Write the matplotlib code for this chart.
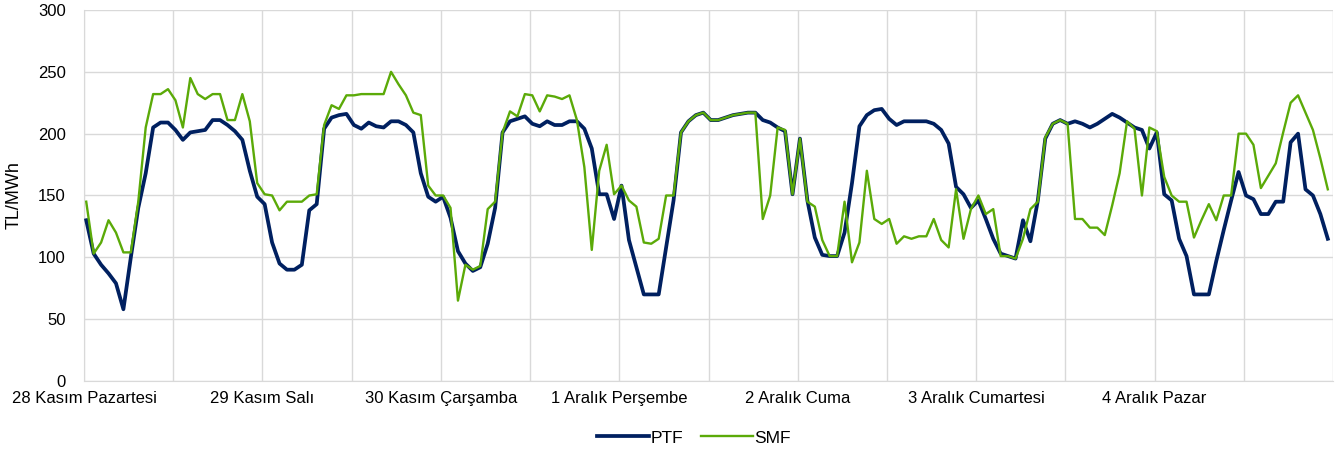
import numpy as np
import matplotlib
matplotlib.use("Agg")
import matplotlib.pyplot as plt

plt.rcParams['font.family'] = ['Liberation Sans', 'DejaVu Sans']

# saatlik degerler, 28 Kasim 00:00 - 4 Aralik 23:00 (168 saat)
ptf = [130, 103, 94, 87, 79, 58, 100, 140, 168, 205, 209, 209, 203, 195, 201, 202, 203, 211, 211, 207, 202, 195, 170, 149,
       143, 112, 95, 90, 90, 94, 138, 143, 204, 213, 215, 216, 207, 204, 209, 206, 205, 210, 210, 207, 201, 168, 149, 145,
       149, 132, 105, 95, 89, 92, 111, 140, 201, 210, 212, 214, 208, 206, 210, 207, 207, 210, 210, 204, 188, 151, 151, 131,
       158, 114, 92, 70, 70, 70, 108, 146, 201, 210, 215, 217, 211, 211, 213, 215, 216, 217, 217, 211, 209, 205, 202, 151,
       196, 146, 116, 102, 101, 101, 120, 160, 206, 215, 219, 220, 212, 207, 210, 210, 210, 210, 208, 203, 192, 157, 151, 140,
       146, 131, 115, 103, 101, 99, 130, 113, 146, 196, 208, 211, 208, 210, 208, 205, 208, 212, 216, 213, 209, 205, 203, 188,
       201, 151, 146, 115, 101, 70, 70, 70, 97, 122, 146, 169, 150, 147, 135, 135, 145, 145, 193, 200, 155, 150, 135, 115]

smf = [145, 103, 112, 130, 120, 104, 104, 145, 205, 232, 232, 236, 227, 205, 245, 232, 228, 232, 232, 211, 211, 232, 210, 160,
       151, 150, 138, 145, 145, 145, 150, 151, 207, 223, 220, 231, 231, 232, 232, 232, 232, 250, 240, 231, 217, 215, 158, 150,
       150, 140, 65, 94, 90, 93, 139, 145, 201, 218, 214, 232, 231, 218, 231, 230, 228, 231, 211, 173, 106, 170, 191, 151,
       158, 146, 141, 112, 111, 115, 150, 150, 201, 210, 215, 217, 211, 211, 213, 215, 216, 217, 217, 131, 150, 205, 203, 151,
       196, 145, 141, 114, 101, 101, 145, 96, 112, 170, 131, 127, 131, 111, 117, 115, 117, 117, 131, 114, 108, 155, 115, 139,
       150, 135, 139, 101, 101, 99, 115, 139, 145, 197, 208, 211, 208, 131, 131, 124, 124, 118, 142, 168, 210, 204, 150, 205,
       202, 165, 150, 145, 145, 116, 130, 143, 130, 150, 150, 200, 200, 191, 156, 166, 176, 201, 225, 231, 217, 203, 180, 155]

gunler = ["28 Kasım Pazartesi", "29 Kasım Salı", "30 Kasım Çarşamba", "1 Aralık Perşembe",
          "2 Aralık Cuma", "3 Aralık Cumartesi", "4 Aralık Pazar"]

saat = np.arange(len(ptf))

fig = plt.figure(figsize=(13.39, 4.54), dpi=100)
ax = fig.add_axes([84/1339, 1-381/454, (1333-84)/1339, (381-10)/454])

ax.plot(saat, ptf, color='#002060', lw=2.7, label='PTF', zorder=3)
ax.plot(saat, smf, color='#5BAA08', lw=1.7, label='SMF', zorder=4)

off = -0.3
ax.set_xlim(off, 168+off)
ax.set_ylim(0, 300)
ax.set_yticks(range(0, 301, 50))
ax.set_xticks(np.arange(0, 168, 24)+off)
ax.set_xticklabels(gunler)
ax.set_xticks(np.arange(0, 169, 12)+off, minor=True)
ax.grid(True, which='both', axis='x', color='#D9D9D9', lw=1)
ax.grid(True, which='major', axis='y', color='#D9D9D9', lw=1)
ax.set_axisbelow(True)
ax.tick_params(axis='both', which='both', length=0, labelsize=12, colors='#000000')
ax.tick_params(axis='x', pad=7)
ax.tick_params(axis='y', pad=13)
for s in ['top', 'right']:
    ax.spines[s].set_visible(False)
for s in ['left', 'bottom']:
    ax.spines[s].set_color('#D9D9D9')

ax.set_ylabel("TL/MWh", fontsize=13)
ax.yaxis.set_label_coords(-0.049, 0.5)

fig.legend(loc='center', bbox_to_anchor=(694/1339, 1-438/454), ncol=2, frameon=False,
           fontsize=12.5, handlelength=3.0, handletextpad=0.1, columnspacing=1.0)

fig.savefig("out.png", dpi=100)
